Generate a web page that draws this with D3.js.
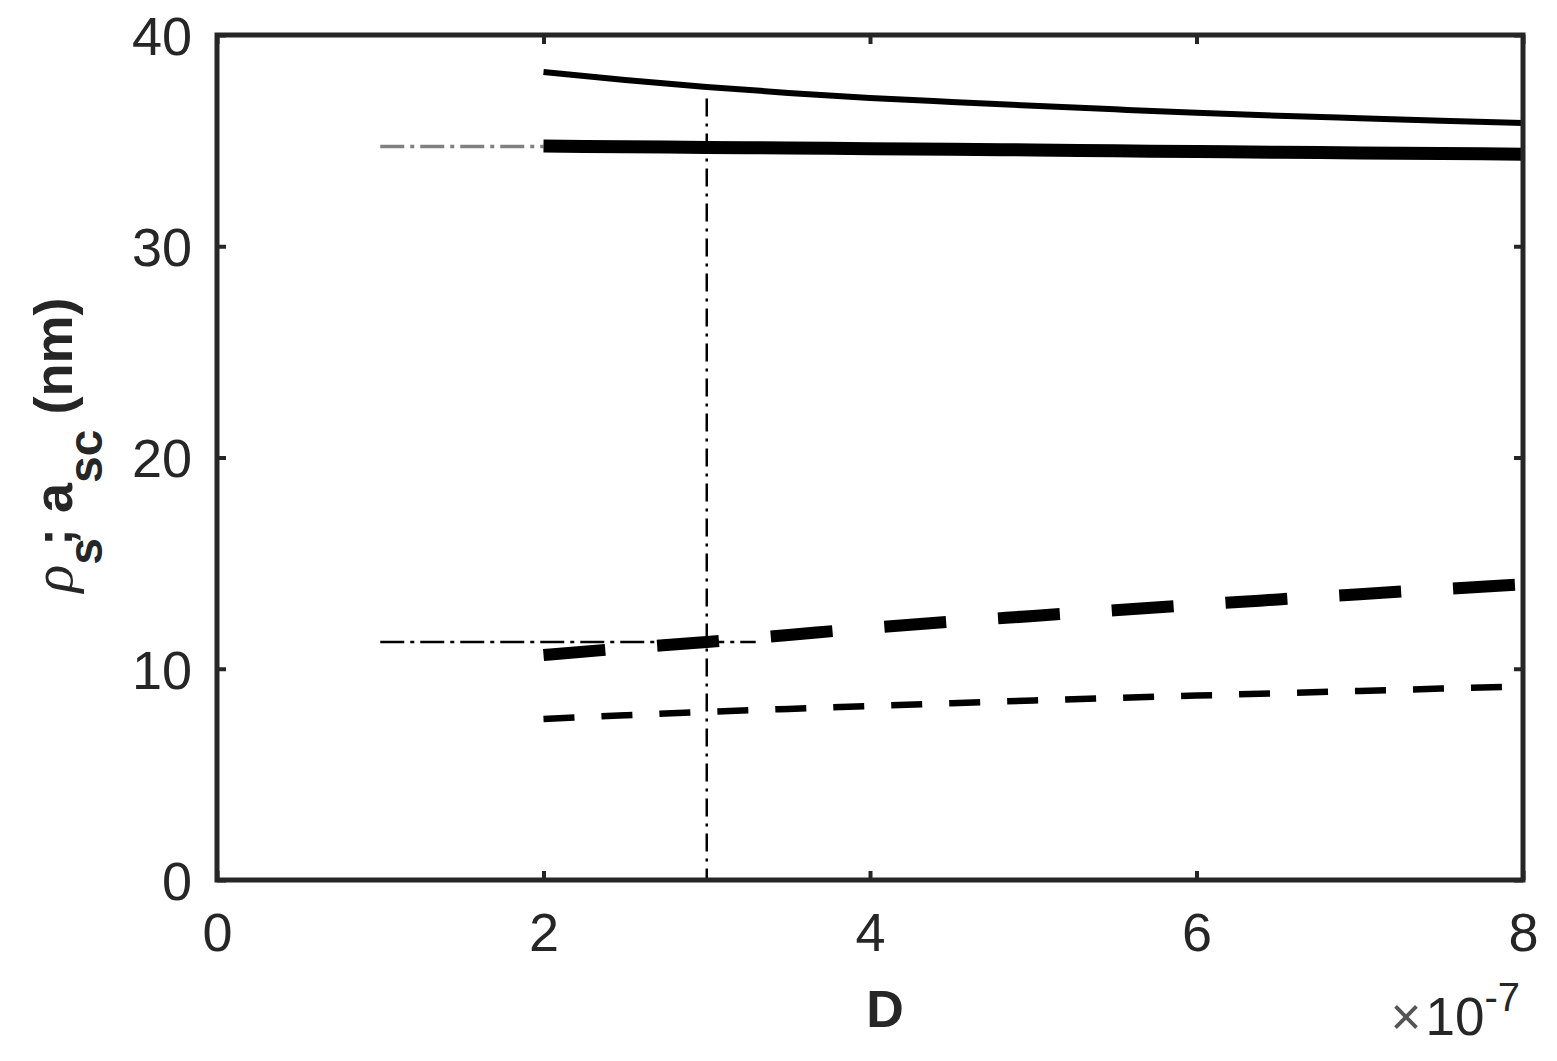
<!DOCTYPE html>
<html>
<head>
<meta charset="utf-8">
<script src="https://cdn.jsdelivr.net/npm/d3@7"></script>
<style>
    body { margin: 0; background: #fff; }
    .tick text { font-family: "Liberation Sans", Arial, sans-serif; font-size: 54px; fill: #262626; }
</style>
</head>
<body>
<div id="chart"></div>
<script>
// values (D in units of 1e-7)
const dValues = [2, 2.5, 3, 3.5, 4, 4.5, 5, 5.5, 6, 6.5, 7, 7.5, 8];
const rhoThin = [38.25, 37.87, 37.54, 37.26, 37.02, 36.83, 36.65, 36.48, 36.32, 36.18, 36.06, 35.94, 35.83];
const rhoThick = [34.74, 34.71, 34.68, 34.65, 34.62, 34.59, 34.56, 34.52, 34.48, 34.45, 34.42, 34.39, 34.36];
const aThick = [10.65, 10.97, 11.27, 11.6, 11.93, 12.23, 12.5, 12.77, 13.03, 13.28, 13.53, 13.77, 14.0];
const aThin = [7.62, 7.8, 7.96, 8.1, 8.24, 8.37, 8.5, 8.62, 8.73, 8.84, 8.95, 9.06, 9.16];

const xTicks = [0, 2, 4, 6, 8];
const yTicks = [0, 10, 20, 30, 40];

// reference guide lines
const guideRho = { x: [1, 2], y: [34.72, 34.72] };
const guideA = { x: [1, 3.3], y: [11.27, 11.27] };
const guideD = { x: [3, 3], y: [37.0, 0] };

const margin = { top: 35, right: 34, bottom: 181, left: 217 };
const width = 1557 - margin.left - margin.right;
const height = 1061 - margin.top - margin.bottom;
const axisColor = "#262626";

const svg = d3.select("#chart")
    .append("svg")
    .attr("width", 1557)
    .attr("height", 1061);

const g = svg.append("g")
    .attr("transform", `translate(${margin.left},${margin.top})`);

const x = d3.scaleLinear().domain([0, 8]).range([0, width]);
const y = d3.scaleLinear().domain([0, 40]).range([height, 0]);

const line = d3.line().x(d => x(d[0])).y(d => y(d[1]));
const smooth = d3.line().x(d => x(d[0])).y(d => y(d[1])).curve(d3.curveMonotoneX);
const pairs = vals => dValues.map((d, i) => [d, vals[i]]);
const guidePairs = gd => gd.x.map((v, i) => [v, gd.y[i]]);

// guide lines
g.append("path")
    .attr("d", line(guidePairs(guideRho)))
    .attr("fill", "none").attr("stroke", "#808080")
    .attr("stroke-width", 3.5).attr("stroke-dasharray", "24,6,4,6");

g.append("path")
    .attr("d", line(guidePairs(guideA)))
    .attr("fill", "none").attr("stroke", "#000")
    .attr("stroke-width", 2.5).attr("stroke-dasharray", "24,6,4,6");

g.append("path")
    .attr("d", line(guidePairs(guideD)))
    .attr("fill", "none").attr("stroke", "#000")
    .attr("stroke-width", 2.5).attr("stroke-dasharray", "18,7,3,7");

// curves
const series = [
    { vals: rhoThin, w: 6, dash: null },
    { vals: rhoThick, w: 13, dash: null },
    { vals: aThick, w: 12, dash: "62,52" },
    { vals: aThin, w: 6.5, dash: "31,27" }
];

series.forEach(s => {
    g.append("path")
        .datum(pairs(s.vals))
        .attr("fill", "none")
        .attr("stroke", "#000")
        .attr("stroke-width", s.w)
        .attr("stroke-dasharray", s.dash)
        .attr("d", smooth);
});

// axes (ticks inward, mirrored on top/right)
function styleAxis(sel) {
    sel.select(".domain").remove();
    sel.selectAll(".tick line").attr("stroke", axisColor).attr("stroke-width", 4);
}

g.append("g")
    .attr("transform", `translate(0,${height})`)
    .call(d3.axisBottom(x).tickValues(xTicks).tickSize(-9).tickPadding(33).tickFormat(d3.format("d")))
    .call(styleAxis);

g.append("g")
    .call(d3.axisTop(x).tickValues(xTicks).tickSize(-9).tickFormat(""))
    .call(styleAxis);

g.append("g")
    .call(d3.axisLeft(y).tickValues(yTicks).tickSize(-9).tickPadding(25).tickFormat(d3.format("d")))
    .call(styleAxis)
    .selectAll("text").attr("dy", "0.36em");

g.append("g")
    .attr("transform", `translate(${width},0)`)
    .call(d3.axisRight(y).tickValues(yTicks).tickSize(-9).tickFormat(""))
    .call(styleAxis);

g.append("rect")
    .attr("x", 0).attr("y", 0)
    .attr("width", width).attr("height", height)
    .attr("fill", "none")
    .attr("stroke", axisColor)
    .attr("stroke-width", 5);

// x label
svg.append("text")
    .attr("x", 885)
    .attr("y", 1027)
    .attr("text-anchor", "middle")
    .style("font-family", "Liberation Sans, Arial, sans-serif")
    .style("font-size", "52px")
    .style("font-weight", "bold")
    .style("fill", axisColor)
    .text("D");

// exponent label
const expo = svg.append("text")
    .attr("x", 1520)
    .attr("y", 1035)
    .attr("text-anchor", "end")
    .style("font-family", "Liberation Sans, Arial, sans-serif")
    .style("font-size", "53px")
    .style("fill", axisColor);
expo.append("tspan").style("font-weight", "300").style("fill", "#555").text("\u00d7");
expo.append("tspan").attr("dx", 4).text("10");
expo.append("tspan").attr("dy", -24).style("font-size", "40px").text("-7");

// y label
const ylab = svg.append("text")
    .attr("transform", "translate(72,445) rotate(-90)")
    .attr("text-anchor", "middle")
    .style("font-family", "Liberation Sans, Arial, sans-serif")
    .style("font-size", "54px")
    .style("font-weight", "bold")
    .style("fill", axisColor);
ylab.append("tspan")
    .style("font-family", "Liberation Serif, serif")
    .style("font-style", "italic")
    .style("font-weight", "normal")
    .style("font-size", "58px")
    .text("\u03c1");
ylab.append("tspan").attr("dy", 30).style("font-size", "48px").text("s");
ylab.append("tspan").attr("dy", -30).attr("dx", -8).text("; a");
ylab.append("tspan").attr("dy", 30).style("font-size", "48px").text("sc");
ylab.append("tspan").attr("dy", -30).text(" (nm)");
</script>
</body>
</html>
